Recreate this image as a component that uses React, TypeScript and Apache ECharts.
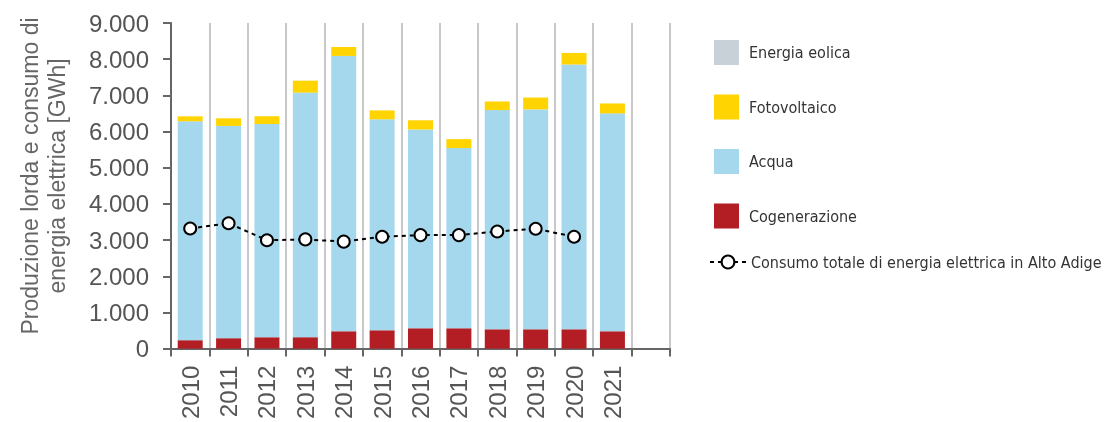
import React, { useEffect, useRef } from "react";
import * as echarts from "echarts";

const years = ["2010", "2011", "2012", "2013", "2014", "2015", "2016", "2017", "2018", "2019", "2020", "2021", ""];
const eolica = [0, 0, 0, 0, 0, 0, 0, 0, 0, 0, 0, 0, null];
const fotovoltaico = [137, 211, 210, 329, 247, 247, 255, 246, 238, 328, 319, 274, null];
const acqua = [6050, 5867, 5895, 6762, 7611, 5831, 5494, 4982, 6059, 6078, 7319, 6023, null];
const cogenerazione = [233, 288, 315, 315, 479, 507, 562, 562, 534, 534, 534, 479, null];
const cogenerazioneNeg = [null, null, null, null, null, null, null, null, null, -65, -65, null, null];
const consumo = [3320, 3466, 2995, 3019, 2956, 3093, 3137, 3137, 3238, 3312, 3093, null, null];

const C_EOL = "#c8d0d8";
const C_FOTO = "#ffd400";
const C_ACQ = "#a5d8ec";
const C_COG = "#b21e23";

const N_EOL = "Energia eolica";
const N_FOTO = "Fotovoltaico";
const N_ACQ = "Acqua";
const N_COG = "Cogenerazione";
const N_CONS = "Consumo totale di energia elettrica in Alto Adige";

export default function App() {
  const ref = useRef<HTMLDivElement>(null);
  useEffect(() => {
    document.body.style.margin = "0";
    const chart = echarts.init(ref.current!, undefined, { renderer: "svg" });
    const legendText = {
      fontFamily: "'DejaVu Sans Condensed', 'Roboto', sans-serif",
      fontSize: 16,
      color: "#333",
    };
    const option: any = {
      animation: false,
      grid: { left: 171, right: 442, top: 23, bottom: 71.5, containLabel: false },
      legend: [
        {
          orient: "vertical",
          left: 714,
          top: 40,
          padding: 0,
          itemWidth: 25,
          itemHeight: 25,
          itemGap: 29.5,
          icon: "rect",
          textStyle: { ...legendText, padding: [0, 0, 0, 5] },
          data: [N_EOL, N_FOTO, N_ACQ, N_COG],
          selectedMode: false,
        },
        {
          orient: "vertical",
          left: 709,
          top: 254,
          padding: 0,
          itemWidth: 36,
          itemHeight: 16,
          textStyle: { ...legendText },
          data: [N_CONS],
          selectedMode: false,
        },
      ],
      xAxis: {
        type: "category",
        data: years,
        boundaryGap: true,
        axisLine: { lineStyle: { color: "#666", width: 2 } },
        axisTick: { show: true, length: 8, lineStyle: { color: "#666", width: 2 } },
        axisLabel: {
          rotate: 90,
          fontSize: 24,
          color: "#555",
          margin: 17,
          fontFamily: "'Liberation Sans', Arial, sans-serif",
        },
        splitLine: {
          show: true,
          interval: (i: number) => i > 0 && i < 13,
          lineStyle: { color: "#c8c8c8", width: 2 },
        },
      },
      yAxis: {
        type: "value",
        min: 0,
        max: 9000,
        interval: 1000,
        axisLine: { show: true, lineStyle: { color: "#666", width: 2 } },
        axisTick: { show: true, length: 8, lineStyle: { color: "#666", width: 2 } },
        splitLine: { show: false },
        axisLabel: {
          fontSize: 24,
          color: "#555",
          margin: 22,
          fontFamily: "'Liberation Sans', Arial, sans-serif",
          formatter: (v: number) => (v === 0 ? "0" : `${Math.floor(v / 1000)}.${String(v % 1000).padStart(3, "0")}`),
        },
      },
      graphic: [
        {
          type: "text",
          x: 43,
          y: 176,
          rotation: Math.PI / 2,
          style: {
            text: "Produzione lorda e consumo di\nenergia elettrica [GWh]",
            fontSize: 23,
            lineHeight: 27,
            fill: "#666",
            fontFamily: "'Liberation Sans', Arial, sans-serif",
            align: "center",
            verticalAlign: "middle",
          },
        },
      ],
      series: [
        {
          name: N_COG,
          type: "bar",
          stack: "prod",
          barWidth: 25,
          data: cogenerazione,
          itemStyle: { color: C_COG },
        },
        {
          name: N_COG,
          type: "bar",
          stack: "prod",
          barWidth: 25,
          data: cogenerazioneNeg,
          itemStyle: { color: C_COG },
        },
        {
          name: N_ACQ,
          type: "bar",
          stack: "prod",
          barWidth: 25,
          data: acqua,
          itemStyle: { color: C_ACQ },
        },
        {
          name: N_FOTO,
          type: "bar",
          stack: "prod",
          barWidth: 25,
          data: fotovoltaico,
          itemStyle: { color: C_FOTO },
        },
        {
          name: N_EOL,
          type: "bar",
          stack: "prod",
          barWidth: 25,
          data: eolica,
          itemStyle: { color: C_EOL },
        },
        {
          name: N_CONS,
          type: "line",
          data: consumo,
          symbol: "circle",
          symbolSize: 12,
          lineStyle: { color: "#000", width: 2, type: [4, 4] },
          itemStyle: { color: "#fff", borderColor: "#000", borderWidth: 2 },
          z: 5,
        },
      ],
    };
    chart.setOption(option);
    return () => chart.dispose();
  }, []);
  return <div ref={ref} style={{ position: "fixed", left: 0, top: 0, width: 1112, height: 422 }} />;
}
